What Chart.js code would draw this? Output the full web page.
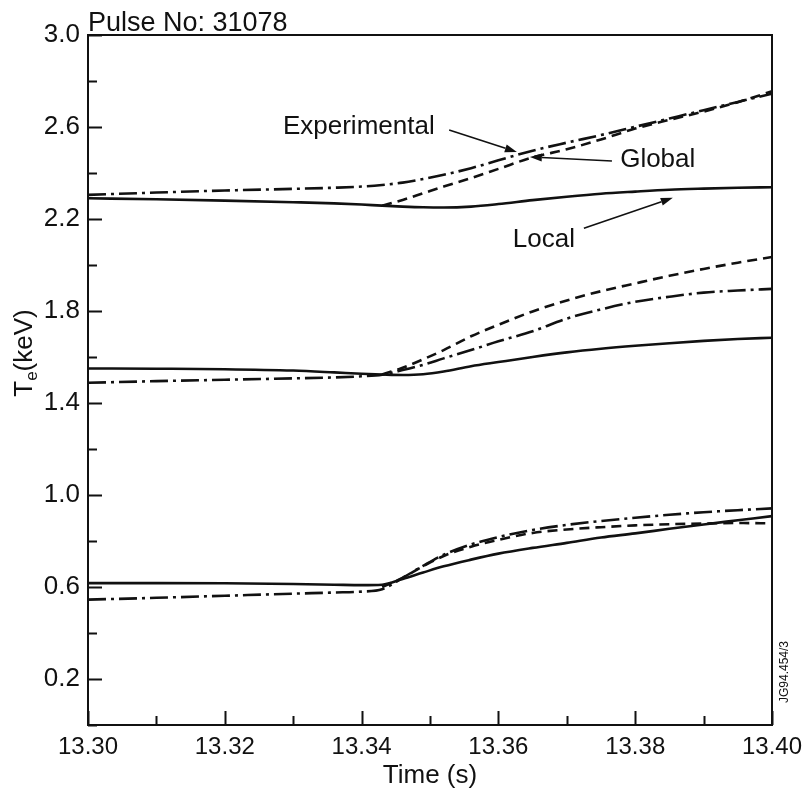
<!DOCTYPE html>
<html>
<head>
<meta charset="utf-8">
<script src="https://cdn.jsdelivr.net/npm/chart.js@4.4.1/dist/chart.umd.min.js"></script>
<style>
  html, body { margin: 0; padding: 0; background: #fff; }
  canvas { display: block; }
</style>
</head>
<body>
<canvas id="teChart" width="804" height="795"></canvas>
<script>
// time grid (s), shared by all curves
const times = [13.300, 13.310, 13.320, 13.330, 13.336, 13.340, 13.343, 13.346, 13.349, 13.352,
               13.356, 13.360, 13.365, 13.370, 13.375, 13.380, 13.385, 13.390, 13.395, 13.400];

// upper group (keV)
const localTop = [2.290, 2.286, 2.280, 2.273, 2.268, 2.263, 2.258, 2.254, 2.251, 2.250,
                  2.254, 2.265, 2.282, 2.297, 2.310, 2.319, 2.327, 2.332, 2.336, 2.338];
const expTop   = [2.305, 2.315, 2.324, 2.331, 2.336, 2.341, 2.348, 2.358, 2.374, 2.392,
                  2.421, 2.455, 2.497, 2.532, 2.565, 2.601, 2.637, 2.673, 2.709, 2.745];
const globTop  = [null, null, null, null, null, null, 2.258, 2.283, 2.312, 2.341,
                  2.378, 2.418, 2.468, 2.503, 2.546, 2.593, 2.631, 2.667, 2.708, 2.755];

// middle group
const localMid = [1.550, 1.549, 1.547, 1.541, 1.533, 1.527, 1.524, 1.522, 1.525, 1.537,
                  1.560, 1.578, 1.600, 1.620, 1.636, 1.649, 1.660, 1.670, 1.678, 1.684];
const expMid   = [1.488, 1.495, 1.501, 1.507, 1.511, 1.516, 1.523, 1.543, 1.566, 1.594,
                  1.630, 1.668, 1.712, 1.767, 1.807, 1.840, 1.862, 1.880, 1.889, 1.896];
const globMid  = [null, null, null, null, null, null, 1.524, 1.553, 1.590, 1.630,
                  1.690, 1.740, 1.798, 1.846, 1.886, 1.920, 1.953, 1.983, 2.010, 2.035];

// lower group
const localLow = [0.617, 0.617, 0.616, 0.613, 0.610, 0.608, 0.610, 0.635, 0.663, 0.690,
                  0.719, 0.745, 0.770, 0.792, 0.815, 0.833, 0.853, 0.872, 0.890, 0.908];
const expLow   = [0.545, 0.553, 0.562, 0.571, 0.576, 0.580, 0.590, 0.640, 0.692, 0.740,
                  0.785, 0.817, 0.848, 0.870, 0.887, 0.901, 0.914, 0.925, 0.934, 0.942];
const globLow  = [null, null, null, null, null, null, 0.600, 0.640, 0.690, 0.735,
                  0.775, 0.805, 0.835, 0.850, 0.860, 0.868, 0.873, 0.876, 0.878, 0.877];

// ticks
const xTickStep = 0.01;
const yTickStep = 0.2;

// labels + arrows, in data coords [time, keV]
const notes = [
  { text: 'Experimental', at: [13.3285, 2.600] },
  { text: 'Global', at: [13.3778, 2.457] },
  { text: 'Local', at: [13.3621, 2.109] }
];
const arrows = [
  [13.3528, 2.587, 13.3627, 2.491],
  [13.3766, 2.452, 13.3646, 2.470],
  [13.3725, 2.160, 13.3855, 2.292]
];

(function () {
  'use strict';

  const FONT = '"Liberation Sans", Arial, Helvetica, sans-serif';
  const INK = '#111';
  Chart.defaults.font.family = FONT;
  Chart.defaults.color = INK;

  function pts(vals) {
    const out = [];
    vals.forEach((v, i) => { if (v !== null) out.push({ x: times[i], y: v }); });
    return out;
  }

  const styles = {
    local: [],
    exp: [18, 5, 3, 5],
    glob: [10, 6]
  };

  function ds(label, vals, kind) {
    return {
      label: label,
      data: pts(vals),
      borderColor: INK,
      borderWidth: 2.6,
      borderDash: styles[kind],
      pointRadius: 0,
      fill: false,
      cubicInterpolationMode: 'monotone'
    };
  }

  // frame, inward ticks, notes and axis title
  const extras = {
    id: 'extras',
    afterDraw(chart) {
      const { ctx, chartArea: a, scales: { x, y } } = chart;
      ctx.save();
      ctx.strokeStyle = INK;
      ctx.fillStyle = INK;
      ctx.lineWidth = 2;
      ctx.strokeRect(a.left, a.top, a.right - a.left, a.bottom - a.top);

      ctx.beginPath();
      y.ticks.forEach(t => {
        const py = Math.round(y.getPixelForValue(t.value)) + 0.5;
        const len = t.label ? 14 : 9;
        ctx.moveTo(a.left, py);
        ctx.lineTo(a.left + len, py);
      });
      x.ticks.forEach(t => {
        const px = Math.round(x.getPixelForValue(t.value)) + 0.5;
        const len = t.label ? 14 : 9;
        ctx.moveTo(px, a.bottom);
        ctx.lineTo(px, a.bottom - len);
      });
      ctx.stroke();

      // arrows
      ctx.lineWidth = 1.6;
      arrows.forEach(ar => {
        const x0 = x.getPixelForValue(ar[0]), y0 = y.getPixelForValue(ar[1]);
        const x1 = x.getPixelForValue(ar[2]), y1 = y.getPixelForValue(ar[3]);
        const ang = Math.atan2(y1 - y0, x1 - x0);
        const hl = 12, hw = 4;
        const bx = x1 - hl * Math.cos(ang), by = y1 - hl * Math.sin(ang);
        ctx.beginPath();
        ctx.moveTo(x0, y0);
        ctx.lineTo(bx, by);
        ctx.stroke();
        ctx.beginPath();
        ctx.moveTo(x1, y1);
        ctx.lineTo(bx + hw * Math.sin(ang), by - hw * Math.cos(ang));
        ctx.lineTo(bx - hw * Math.sin(ang), by + hw * Math.cos(ang));
        ctx.closePath();
        ctx.fill();
      });

      ctx.font = '26px ' + FONT;
      ctx.textAlign = 'left';
      ctx.textBaseline = 'middle';
      notes.forEach(n => {
        ctx.fillText(n.text, x.getPixelForValue(n.at[0]), y.getPixelForValue(n.at[1]));
      });

      // pulse number
      ctx.font = '27px ' + FONT;
      ctx.textBaseline = 'alphabetic';
      ctx.fillText('Pulse No: 31078', a.left, a.top - 4);

      // Te(keV), rotated, with subscript e
      ctx.save();
      ctx.translate(32, 353);
      ctx.rotate(-Math.PI / 2);
      const big = '26px ' + FONT, small = '17px ' + FONT;
      ctx.font = big;
      const wT = ctx.measureText('T').width;
      const wRest = ctx.measureText('(keV)').width;
      ctx.font = small;
      const wE = ctx.measureText('e').width;
      let cx = -(wT + wE + wRest) / 2;
      ctx.font = big;
      ctx.fillText('T', cx, 0);
      cx += wT;
      ctx.font = small;
      ctx.fillText('e', cx, 5);
      cx += wE;
      ctx.font = big;
      ctx.fillText('(keV)', cx, 0);
      ctx.restore();

      // figure code
      ctx.save();
      ctx.translate(785, 672);
      ctx.rotate(-Math.PI / 2);
      ctx.font = '12px ' + FONT;
      ctx.textAlign = 'center';
      ctx.textBaseline = 'middle';
      ctx.fillText('JG94.454/3', 0, 0);
      ctx.restore();

      ctx.restore();
    }
  };

  const ctx = document.getElementById('teChart').getContext('2d');
  new Chart(ctx, {
    type: 'line',
    data: {
      datasets: [
        ds('Local', localTop, 'local'),
        ds('Experimental', expTop, 'exp'),
        ds('Global', globTop, 'glob'),
        ds('Local', localMid, 'local'),
        ds('Experimental', expMid, 'exp'),
        ds('Global', globMid, 'glob'),
        ds('Local', localLow, 'local'),
        ds('Experimental', expLow, 'exp'),
        ds('Global', globLow, 'glob')
      ]
    },
    options: {
      responsive: false,
      animation: false,
      layout: { padding: { top: 35, right: 32, left: 0, bottom: 0 } },
      plugins: {
        legend: { display: false },
        tooltip: { enabled: false }
      },
      scales: {
        x: {
          type: 'linear',
          min: 13.30,
          max: 13.40,
          grid: { display: false, drawTicks: false },
          border: { display: false },
          ticks: {
            stepSize: xTickStep,
            autoSkip: false,
            maxRotation: 0,
            padding: 8,
            font: { size: 24 },
            callback: function (v) {
              const k = Math.round((v - 13.30) * 100);
              return k % 2 === 0 ? v.toFixed(2) : '';
            }
          },
          title: {
            display: true,
            text: 'Time (s)',
            font: { size: 26 },
            padding: { top: 0, bottom: 4 }
          },
          afterFit: function (s) {
            s.height = 70;
            // keep end labels from pushing the plot inwards
            s.paddingLeft = 0;
            s.paddingRight = 0;
          }
        },
        y: {
          min: 0,
          max: 3.0,
          grid: { display: false, drawTicks: false },
          border: { display: false },
          ticks: {
            stepSize: yTickStep,
            autoSkip: false,
            padding: 8,
            font: { size: 26 },
            callback: function (v) {
              const k = Math.round(v * 10);
              return k % 4 === 2 ? v.toFixed(1) : '';
            }
          },
          afterFit: function (s) {
            s.width = 88;
            s.paddingTop = 0;
            s.paddingBottom = 0;
          }
        }
      }
    },
    plugins: [extras]
  });
})();
</script>
</body>
</html>
